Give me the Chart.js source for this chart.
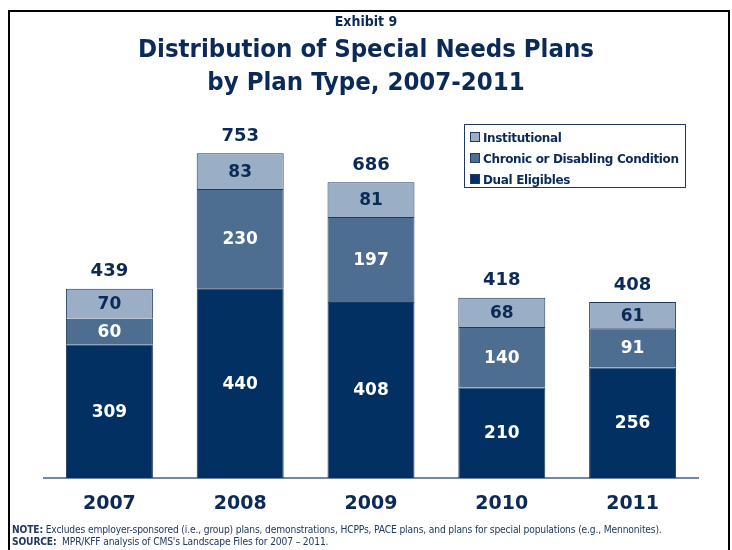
<!DOCTYPE html>
<html>
<head>
<meta charset="utf-8">
<script src="https://cdn.jsdelivr.net/npm/chart.js@4/dist/chart.umd.min.js"></script>
<style>
body{margin:0;width:732px;height:550px;overflow:hidden;background:#fff;font-family:"DejaVu Sans",Verdana,sans-serif;color:#0b2a57}
#frame{position:absolute;left:8px;top:10px;width:722px;height:560px;border:2px solid #000;box-sizing:border-box}
#wrap{position:absolute;left:0;top:0;width:732px;height:550px}
#exhibit{position:absolute;left:0;width:732px;top:13px;text-align:center;font-weight:bold;font-size:14px;font-family:"DejaVu Sans Condensed","DejaVu Sans",sans-serif}
#title{position:absolute;left:0;width:732px;top:32px;text-align:center;font-weight:bold;font-size:25.5px;line-height:33px;font-family:"DejaVu Sans Condensed","DejaVu Sans",sans-serif}
#legend{position:absolute;left:464px;top:124px;width:222px;height:64px;border:1px solid #1f3a60;box-sizing:border-box;padding:3px 0 0 5px;font-weight:bold;font-size:12px;letter-spacing:-0.35px}
#legend div{height:21px;line-height:20px;white-space:nowrap}
#legend span.sw{display:inline-block;width:8px;height:8px;border:1px solid #1f3a60;margin-right:3px;vertical-align:0px}
#notes{position:absolute;left:12px;top:524px;font-size:10.2px;line-height:12px;color:#1f3a60;font-family:"DejaVu Sans Condensed","DejaVu Sans",sans-serif;letter-spacing:-0.15px}
</style>
</head>
<body>
<div id="wrap"><canvas id="c" width="732" height="550"></canvas></div>
<div id="frame"></div>
<div id="exhibit">Exhibit 9</div>
<div id="title">Distribution of Special Needs Plans<br>by Plan Type, 2007-2011</div>
<div id="legend"></div>
<div id="notes"><b>NOTE:</b> Excludes employer-sponsored (i.e., group) plans, demonstrations, HCPPs, PACE plans, and plans for special populations (e.g., Mennonites).<br><b>SOURCE:</b>&nbsp; MPR/KFF analysis of CMS's Landscape Files for 2007 – 2011.</div>
<script>
const years=['2007','2008','2009','2010','2011']
const dual=[309,440,408,210,256]
const chronic=[60,230,197,140,91]
const institutional=[70,83,81,68,61]
const totals=[439,753,686,418,408]
const seriesNames=['Dual Eligibles','Chronic or Disabling Condition','Institutional']
const colors=['#033063','#4d6d91','#9aafc5']
const labelColors=['#ffffff','#ffffff','#0b2a57']

// legend (top item = Institutional)
const legend=document.getElementById('legend')
for (let i=2;i>=0;i--){
    legend.innerHTML+=`<div><span class="sw" style="background:${colors[i]}"></span>${seriesNames[i]}</div>`
}

const labelPlugin={
    id:'labels',
    afterDatasetsDraw(chart){
        const ctx=chart.ctx
        ctx.save()
        ctx.textAlign='center'
        ctx.textBaseline='middle'
        ctx.font='bold 17px "DejaVu Sans", Verdana, sans-serif'
        chart.data.datasets.forEach((ds,i)=>{
            const meta=chart.getDatasetMeta(i)
            meta.data.forEach((bar,j)=>{
                ctx.fillStyle=labelColors[i]
                ctx.fillText(ds.data[j],bar.x,(bar.y+bar.base)/2+1)
            })
        })
        const top=chart.getDatasetMeta(2)
        ctx.fillStyle='#0b2a57'
        ctx.font='bold 18px "DejaVu Sans", Verdana, sans-serif'
        top.data.forEach((bar,j)=>{
            ctx.fillText(totals[j],bar.x,bar.y-17)
        })
        ctx.restore()
    }
}

new Chart(document.getElementById('c'),{
    type:'bar',
    data:{
        labels:years,
        datasets:[
            {label:seriesNames[0],data:dual,backgroundColor:colors[0]},
            {label:seriesNames[1],data:chronic,backgroundColor:colors[1]},
            {label:seriesNames[2],data:institutional,backgroundColor:colors[2]}
        ].map(d=>Object.assign(d,{borderColor:'#1f3a60',borderWidth:1,categoryPercentage:1,barPercentage:0.665}))
    },
    options:{
        responsive:false,
        animation:false,
        layout:{padding:{left:44,right:34,top:133,bottom:30}},
        plugins:{legend:{display:false},tooltip:{enabled:false}},
        scales:{
            x:{
                stacked:true,
                grid:{display:false},
                border:{display:true,color:'#6f88a6',width:2},
                ticks:{color:'#0b2a57',padding:7,font:{family:'"DejaVu Sans", Verdana, sans-serif',size:19,weight:'bold'}},
                afterFit(s){s.height=42}
            },
            y:{stacked:true,display:false,min:0,max:800}
        }
    },
    plugins:[labelPlugin]
})
</script>
</body>
</html>
